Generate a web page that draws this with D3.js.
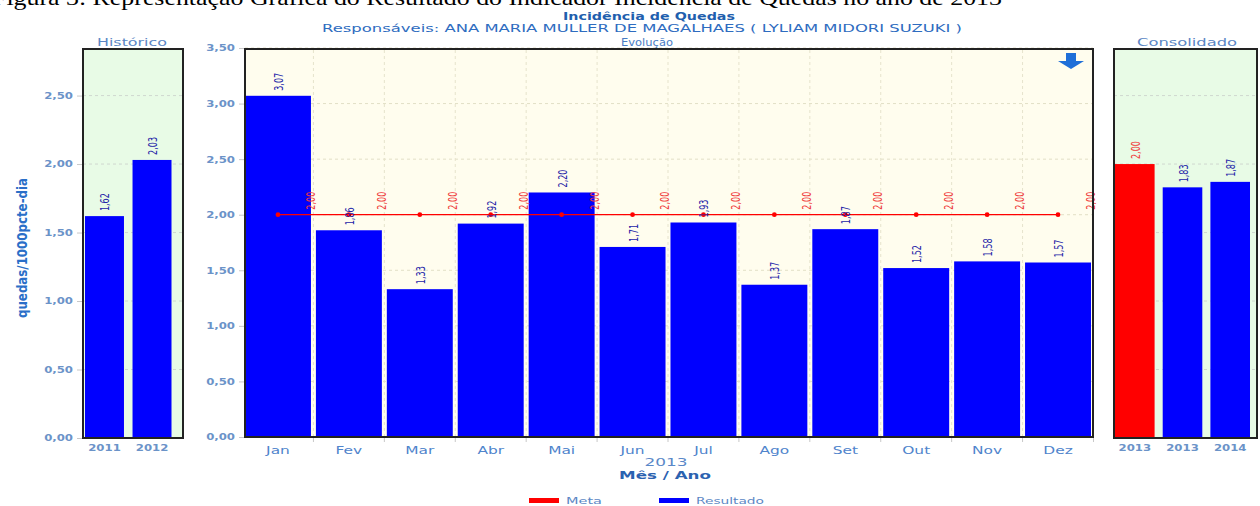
<!DOCTYPE html>
<html>
<head>
<meta charset="utf-8">
<script src="https://cdn.jsdelivr.net/npm/d3@7"></script>
<style>
  body { margin: 0; background: #fff; }
  svg { display: block; font-family: "DejaVu Sans", Verdana, sans-serif; }
</style>
</head>
<body>
<div id="chart"></div>
<script>
// data
const months = ["Jan", "Fev", "Mar", "Abr", "Mai", "Jun", "Jul", "Ago", "Set", "Out", "Nov", "Dez"];
const resultado = [3.07, 1.86, 1.33, 1.92, 2.20, 1.71, 1.93, 1.37, 1.87, 1.52, 1.58, 1.57];
const meta = [2.00, 2.00, 2.00, 2.00, 2.00, 2.00, 2.00, 2.00, 2.00, 2.00, 2.00, 2.00];
const histYears = ["2011", "2012"];
const histValues = [1.62, 2.03];
const consYears = ["2013", "2013", "2014"];
const consSeries = ["Meta", "Resultado", "Resultado"];
const consValues = [2.00, 1.83, 1.87];
const mainTicks = [0, 0.5, 1, 1.5, 2, 2.5, 3, 3.5];
const sideTicks = [0, 0.5, 1, 1.5, 2, 2.5];

const width = 1260, height = 506;
const RED = "#ff0000", BLUE = "#0000ff";
const fmt = v => v.toFixed(2).replace(".", ",");

const svg = d3.select("#chart").append("svg")
    .attr("width", width)
    .attr("height", height);

// the original picture is stretched sideways, so text gets widened too
function widen(sel, k) {
    sel.each(function () {
        const w = this.getComputedTextLength();
        d3.select(this).attr("textLength", w * k).attr("lengthAdjust", "spacingAndGlyphs");
    });
}

function label(x, y, str, opts) {
    const t = svg.append("text")
        .attr("x", x).attr("y", y)
        .attr("text-anchor", opts.anchor || "middle")
        .attr("font-size", opts.size || 10)
        .attr("font-weight", opts.weight || "normal")
        .attr("fill", opts.fill || "#4f84cc")
        .text(str);
    if (opts.family) t.attr("font-family", opts.family);
    if (opts.len) t.attr("textLength", opts.len).attr("lengthAdjust", "spacingAndGlyphs");
    else widen(t, opts.k || 1.3);
    return t;
}

// caption of the document, cut at the top edge
svg.append("text")
    .attr("x", -8).attr("y", 5)
    .attr("font-family", "'Liberation Serif', 'Times New Roman', serif")
    .attr("font-size", 22)
    .attr("fill", "#000")
    .attr("textLength", 1010).attr("lengthAdjust", "spacingAndGlyphs")
    .text("Figura 3: Representação Gráfica do Resultado do Indicador Incidência de Quedas no ano de 2013");

// titles
label(649, 20, "Incidência de Quedas", { size: 11, weight: "bold", fill: "#1f5fae", len: 172 });
label(642, 32, "Responsáveis: ANA MARIA MULLER DE MAGALHAES ( LYLIAM MIDORI SUZUKI )", { size: 10, fill: "#2e6cc0", len: 640 });
label(647, 46, "Evolução", { size: 11, fill: "#4a7cc4", len: 52 });
label(132, 46, "Histórico", { size: 10, fill: "#5b87c5", len: 70 });
label(1187, 46, "Consolidado", { size: 10, fill: "#5b87c5", len: 100 });

// scales
const yMain = d3.scaleLinear().domain([0, 3.5]).range([437, 48]);
const ySide = d3.scaleLinear().domain([0, 2.84]).range([438, 49]);
const xMain = d3.scaleBand().domain(months).range([245, 1091]).paddingInner(0.07).paddingOuter(0);
const xHist = d3.scaleBand().domain(histYears).range([85, 171.5]).paddingInner(0.18);
const xCons = d3.scaleBand().domain(d3.range(consYears.length)).range([1115, 1250]).paddingInner(0.17);

const panels = [
    { x0: 83, x1: 183, y: ySide, fill: "#e8fbe6", ticks: sideTicks },
    { x0: 245, x1: 1093, y: yMain, fill: "#fffdee", ticks: mainTicks },
    { x0: 1114, x1: 1257, y: ySide, fill: "#e8fbe6", ticks: sideTicks }
];

panels.forEach(p => {
    svg.append("rect")
        .attr("x", p.x0).attr("y", 49)
        .attr("width", p.x1 - p.x0).attr("height", p.y(0) - 49)
        .attr("fill", p.fill);
    svg.append("g")
        .selectAll("line")
        .data(p.ticks.filter(t => t > 0))
        .enter().append("line")
        .attr("x1", p.x0).attr("x2", p.x1)
        .attr("y1", d => p.y(d)).attr("y2", d => p.y(d))
        .attr("stroke", p.fill === "#fffdee" ? "#e2dfc6" : "#cfd8cf")
        .attr("stroke-dasharray", "3,3");
});

// vertical grid between months
svg.append("g")
    .selectAll("line")
    .data(months.slice(1))
    .enter().append("line")
    .attr("x1", d => xMain(d) - xMain.step() * xMain.paddingInner() / 2)
    .attr("x2", d => xMain(d) - xMain.step() * xMain.paddingInner() / 2)
    .attr("y1", 50).attr("y2", 436)
    .attr("stroke", "#e6e3cc")
    .attr("stroke-dasharray", "3,3");

// y axes
function yAxis(scale, x, ticks) {
    const g = svg.append("g")
        .attr("transform", `translate(${x},0)`)
        .call(d3.axisLeft(scale).tickValues(ticks).tickFormat(fmt).tickSize(5).tickPadding(4));
    g.select(".domain").remove();
    g.selectAll(".tick line").attr("stroke", "#c8c8c8");
    g.selectAll(".tick text")
        .attr("font-family", "'DejaVu Sans', Verdana, sans-serif")
        .attr("font-size", 9)
        .attr("font-weight", "bold")
        .attr("fill", "#6b93c8");
    widen(g.selectAll(".tick text"), 1.3);
}
yAxis(ySide, 82, sideTicks);
yAxis(yMain, 244, mainTicks);

// y title
svg.append("text")
    .attr("transform", "translate(27,248) scale(1.3,1) rotate(-90)")
    .attr("text-anchor", "middle")
    .attr("font-family", "'DejaVu Sans Condensed', 'DejaVu Sans', sans-serif")
    .attr("font-stretch", "condensed")
    .attr("font-size", 11)
    .attr("font-weight", "bold")
    .attr("fill", "#2a6fc8")
    .attr("textLength", 140).attr("lengthAdjust", "spacingAndGlyphs")
    .text("quedas/1000pcte-dia");

// bars
svg.append("g")
    .selectAll("rect")
    .data(resultado)
    .enter().append("rect")
    .attr("x", (d, i) => xMain(months[i]))
    .attr("width", xMain.bandwidth())
    .attr("y", d => yMain(d))
    .attr("height", d => yMain(0) - yMain(d))
    .attr("fill", BLUE);

svg.append("g")
    .selectAll("rect")
    .data(histValues)
    .enter().append("rect")
    .attr("x", (d, i) => xHist(histYears[i]))
    .attr("width", xHist.bandwidth())
    .attr("y", d => ySide(d))
    .attr("height", d => ySide(0) - ySide(d))
    .attr("fill", BLUE);

svg.append("g")
    .selectAll("rect")
    .data(consValues)
    .enter().append("rect")
    .attr("x", (d, i) => xCons(i))
    .attr("width", xCons.bandwidth())
    .attr("y", d => ySide(d))
    .attr("height", d => ySide(0) - ySide(d))
    .attr("fill", (d, i) => consSeries[i] === "Meta" ? RED : BLUE);

// meta line and markers
const metaLine = d3.line()
    .x((d, i) => xMain(months[i]) + xMain.bandwidth() / 2)
    .y(d => yMain(d));
svg.append("path")
    .datum(meta)
    .attr("d", metaLine)
    .attr("fill", "none")
    .attr("stroke", RED)
    .attr("stroke-width", 1.2);
svg.append("g")
    .selectAll("circle")
    .data(meta)
    .enter().append("circle")
    .attr("cx", (d, i) => xMain(months[i]) + xMain.bandwidth() / 2)
    .attr("cy", d => yMain(d))
    .attr("r", 2.4)
    .attr("fill", RED);

// rotated value labels
function valueLabels(data, xf, yf, color) {
    svg.append("g")
        .selectAll("text")
        .data(data)
        .enter().append("text")
        .attr("transform", (d, i) => `translate(${xf(d, i)},${yf(d) - 5}) scale(1.3,1) rotate(-90)`)
        .attr("font-family", "'DejaVu Sans Condensed', 'DejaVu Sans', sans-serif")
        .attr("font-stretch", "condensed")
        .attr("font-size", 9)
        .attr("fill", color)
        .text(fmt);
}
valueLabels(resultado, (d, i) => xMain(months[i]) + xMain.bandwidth() / 2 + 5, yMain, "#2424a8");
valueLabels(meta, (d, i) => xMain(months[i]) + xMain.step() - 1, yMain, "#f03a3a");
valueLabels(histValues, (d, i) => xHist(histYears[i]) + xHist.bandwidth() / 2 + 5, ySide, "#2424a8");
svg.append("g")
    .selectAll("text")
    .data(consValues)
    .enter().append("text")
    .attr("transform", (d, i) => `translate(${xCons(i) + xCons.bandwidth() / 2 + 5},${ySide(d) - 5}) scale(1.3,1) rotate(-90)`)
    .attr("font-family", "'DejaVu Sans Condensed', 'DejaVu Sans', sans-serif")
    .attr("font-stretch", "condensed")
    .attr("font-size", 9)
    .attr("fill", (d, i) => consSeries[i] === "Meta" ? "#f03a3a" : "#2424a8")
    .text(fmt);

// panel borders
panels.forEach(p => {
    svg.append("rect")
        .attr("x", p.x0).attr("y", 49)
        .attr("width", p.x1 - p.x0).attr("height", p.y(0) - 49)
        .attr("fill", "none")
        .attr("stroke", "#222")
        .attr("stroke-width", 2);
});

// x axes
const gx = svg.append("g")
    .attr("transform", `translate(0,${yMain(0)})`)
    .call(d3.axisBottom(xMain).tickSize(0).tickPadding(9));
gx.select(".domain").remove();
gx.selectAll(".tick text")
    .attr("font-family", "'DejaVu Sans', Verdana, sans-serif")
    .attr("font-size", 11)
    .attr("fill", "#4f84cc");
widen(gx.selectAll(".tick text"), 1.4);

svg.append("g")
    .selectAll("line")
    .data(months)
    .enter().append("line")
    .attr("x1", d => xMain(d) + xMain.bandwidth() + xMain.step() * xMain.paddingInner() / 2)
    .attr("x2", d => xMain(d) + xMain.bandwidth() + xMain.step() * xMain.paddingInner() / 2)
    .attr("y1", 438).attr("y2", 442)
    .attr("stroke", "#c8c8c8");

function sideAxis(scale, fmtTick) {
    const g = svg.append("g")
        .attr("transform", "translate(0,438)")
        .call(d3.axisBottom(scale).tickSize(0).tickPadding(7).tickFormat(fmtTick));
    g.select(".domain").remove();
    g.selectAll(".tick text")
        .attr("font-family", "'DejaVu Sans', Verdana, sans-serif")
        .attr("font-size", 9)
        .attr("font-weight", "bold")
        .attr("fill", "#6b93c8");
    widen(g.selectAll(".tick text"), 1.3);
}
sideAxis(xHist, d => d);
sideAxis(xCons, i => consYears[i]);

label(666, 466, "2013", { size: 11, fill: "#5a88c8", len: 43 });
label(665, 479, "Mês / Ano", { size: 11, weight: "bold", fill: "#2b62b0", len: 92 });

// legend
const legendItems = [
    { name: "Meta", color: RED, x: 529, w: 36 },
    { name: "Resultado", color: BLUE, x: 659, w: 68 }
];
legendItems.forEach(l => {
    svg.append("rect")
        .attr("x", l.x).attr("y", 498)
        .attr("width", 30).attr("height", 5)
        .attr("fill", l.color);
    label(l.x + 37, 504, l.name, { size: 9, fill: "#5b87c5", anchor: "start", len: l.w });
});

// export arrow icon
svg.append("path")
    .attr("d", "M1066,53 L1076,53 L1076,61 L1084,61 L1071,69 L1058,61 L1066,61 Z")
    .attr("fill", "#1f6fd8");
</script>
</body>
</html>
